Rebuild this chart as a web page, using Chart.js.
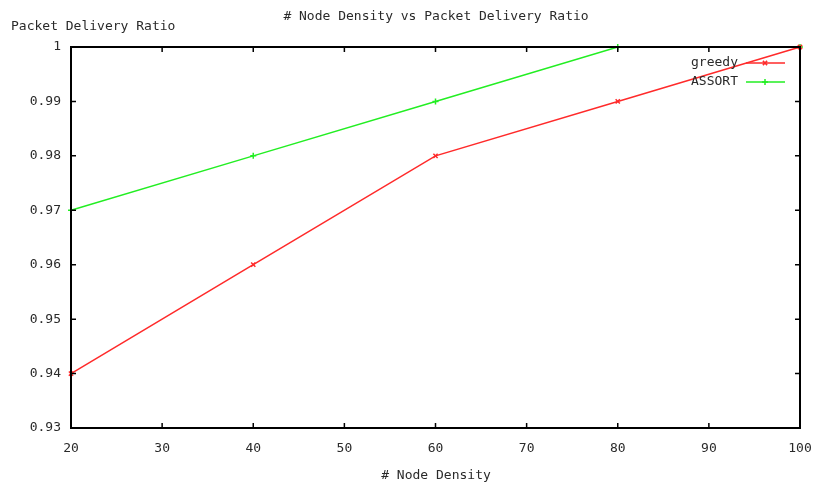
<!DOCTYPE html>
<html lang="en">
<head>
  <meta charset="UTF-8">
  <title>Node Density vs Packet Delivery Ratio</title>
  <script src="https://cdn.jsdelivr.net/npm/chart.js"></script>
  <style>
    body {
      margin: 0;
      background: #fff;
    }
    .chart-container {
      position: relative;
      width: 814px;
      height: 482px;
    }
  </style>
</head>
<body>
  <div class="chart-container">
    <canvas id="pdrChart"></canvas>
  </div>

  <script>
    // Data
    const nodeDensity = [20, 40, 60, 80, 100];
    const greedy = [0.94, 0.96, 0.98, 0.99, 1.0];
    const assort = [0.97, 0.98, 0.99, 1.0, 1.0];

    // Tick labels
    const xTicks = [20, 30, 40, 50, 60, 70, 80, 90, 100];
    const yTicks = [0.93, 0.94, 0.95, 0.96, 0.97, 0.98, 0.99, 1];

    const FAMILY = '"DejaVu Sans Mono", monospace';
    const FONT = '13px ' + FAMILY;
    const TEXT = '#2a2a2a';
    const RED = '#ff2a2a';
    const GREEN = '#22ee22';

    // gnuplot-like frame, inward ticks, title, labels and key
    const gnuplotFrame = {
      id: 'gnuplotFrame',
      afterDraw(chart) {
        const c = chart.ctx;
        const a = chart.chartArea;
        const xs = chart.scales.x;
        const ys = chart.scales.y;
        c.save();

        // frame
        c.strokeStyle = '#000';
        c.lineWidth = 2;
        c.strokeRect(a.left, a.top, a.right - a.left, a.bottom - a.top);

        // inward ticks
        c.lineWidth = 1.5;
        c.beginPath();
        xTicks.forEach(v => {
          const px = xs.getPixelForValue(v);
          c.moveTo(px, a.bottom); c.lineTo(px, a.bottom - 5);
          c.moveTo(px, a.top); c.lineTo(px, a.top + 5);
        });
        yTicks.forEach(v => {
          const py = ys.getPixelForValue(v);
          c.moveTo(a.left, py); c.lineTo(a.left + 5, py);
          c.moveTo(a.right, py); c.lineTo(a.right - 5, py);
        });
        c.stroke();

        // texts
        c.font = FONT;
        c.fillStyle = TEXT;
        c.textBaseline = 'middle';
        c.textAlign = 'center';
        c.fillText('# Node Density vs Packet Delivery Ratio', 436, 17);
        c.fillText('# Node Density', 436, 476);
        c.textAlign = 'left';
        c.fillText('Packet Delivery Ratio', 11, 27);

        // key
        const key = [
          { label: 'greedy', color: RED, style: 'crossRot', y: 63 },
          { label: 'ASSORT', color: GREEN, style: 'cross', y: 82 }
        ];
        key.forEach(k => {
          c.textAlign = 'right';
          c.fillStyle = TEXT;
          c.fillText(k.label, 738, k.y);
          c.strokeStyle = k.color;
          c.lineWidth = 1.5;
          c.beginPath();
          c.moveTo(746, k.y); c.lineTo(785, k.y);
          c.stroke();
          Chart.helpers.drawPoint(c, { pointStyle: k.style, radius: 3, borderWidth: 1.5 }, 765, k.y);
        });

        c.restore();
      }
    };

    const ctx = document.getElementById('pdrChart').getContext('2d');

    new Chart(ctx, {
      type: 'line',
      data: {
        labels: nodeDensity,
        datasets: [
          {
            label: 'greedy',
            data: nodeDensity.map((x, i) => ({ x: x, y: greedy[i] })),
            borderColor: RED,
            backgroundColor: RED,
            borderWidth: 1.5,
            pointStyle: 'crossRot',
            pointRadius: 3,
            pointBorderWidth: 1.5,
            tension: 0
          },
          {
            label: 'ASSORT',
            data: nodeDensity.map((x, i) => ({ x: x, y: assort[i] })),
            borderColor: GREEN,
            backgroundColor: GREEN,
            borderWidth: 1.5,
            pointStyle: 'cross',
            pointRadius: 3,
            pointBorderWidth: 1.5,
            tension: 0
          }
        ]
      },
      options: {
        responsive: true,
        maintainAspectRatio: false,
        animation: false,
        clip: false,
        layout: {
          padding: { top: 47, right: 0, bottom: 0, left: 0 }
        },
        plugins: {
          legend: { display: false },
          tooltip: { enabled: false }
        },
        scales: {
          x: {
            type: 'linear',
            min: 20,
            max: 100,
            afterBuildTicks: scale => {
              scale.ticks = xTicks.map(v => ({ value: v }));
            },
            afterFit: scale => {
              scale.height = 54;
              scale.paddingRight = 14;
            },
            grid: { display: false },
            border: { display: false },
            ticks: {
              color: TEXT,
              font: { family: FAMILY, size: 13 },
              padding: 5,
              maxRotation: 0,
              callback: v => String(v)
            }
          },
          y: {
            min: 0.93,
            max: 1,
            afterBuildTicks: scale => {
              scale.ticks = yTicks.map(v => ({ value: v }));
            },
            afterFit: scale => { scale.width = 71; },
            grid: { display: false },
            border: { display: false },
            ticks: {
              color: TEXT,
              font: { family: FAMILY, size: 13 },
              padding: 2,
              callback: v => String(Math.round(v * 100) / 100)
            }
          }
        }
      },
      plugins: [gnuplotFrame]
    });
  </script>
</body>
</html>
